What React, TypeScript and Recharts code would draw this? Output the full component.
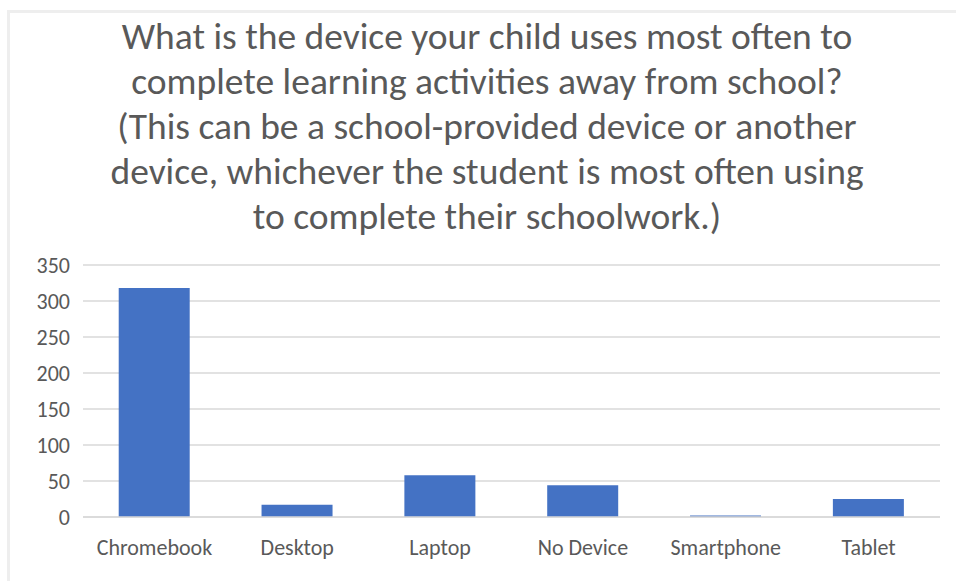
import { BarChart, Bar, XAxis, YAxis, CartesianGrid } from 'recharts';

const DEVICES = ['Chromebook', 'Desktop', 'Laptop', 'No Device', 'Smartphone', 'Tablet'];
const COUNTS = [318, 17, 58, 44, 2, 25];
const Y_TICKS = [0, 50, 100, 150, 200, 250, 300, 350];
const TITLE_LINES = [
  'What is the device your child uses most often to',
  'complete learning activities away from school?',
  '(This can be a school-provided device or another',
  'device, whichever the student is most often using',
  'to complete their schoolwork.)',
];

const FONT = "Calibri, Carlito, 'Liberation Sans Narrow', Lato, sans-serif";
const TEXT_COLOR = '#595959';

const data = DEVICES.map((name, i) => ({ name, value: COUNTS[i] }));

export default function App() {
  return (
    <div style={{ position: 'absolute', left: 0, top: 0, width: 956, height: 581, background: '#fff', overflow: 'hidden' }}>
      {/* light frame of the original chart object */}
      <div
        style={{
          position: 'absolute',
          left: 7,
          top: 10,
          width: 1000,
          height: 700,
          borderLeft: '3px solid #eeeeee',
          borderTop: '3px solid #eeeeee',
        }}
      />
      <div
        style={{
          position: 'absolute',
          left: 0,
          top: 14,
          width: 974,
          textAlign: 'center',
          fontFamily: FONT,
          fontSize: 37.5,
          lineHeight: '45px',
          color: TEXT_COLOR,
        }}
      >
        {TITLE_LINES.map((line) => (
          <div key={line}>{line}</div>
        ))}
      </div>
      <div style={{ position: 'absolute', left: 0, top: 0 }}>
        <BarChart
          width={956}
          height={581}
          data={data}
          margin={{ top: 265, right: 16, bottom: 0, left: 0 }}
          barCategoryGap="25%"
        >
          <CartesianGrid vertical={false} stroke="#d9d9d9" strokeWidth={1.5} />
          <XAxis
            dataKey="name"
            height={64}
            axisLine={{ stroke: '#d9d9d9', strokeWidth: 1.5 }}
            tickLine={false}
            tickSize={0}
            tickMargin={22}
            tick={{ fill: TEXT_COLOR, fontSize: 22, fontFamily: FONT }}
            interval={0}
          />
          <YAxis
            width={83}
            domain={[0, 350]}
            ticks={Y_TICKS}
            axisLine={false}
            tickLine={false}
            tickSize={0}
            tickMargin={13}
            tick={{ fill: TEXT_COLOR, fontSize: 22, fontFamily: FONT }}
          />
          <Bar dataKey="value" fill="#4472c4" isAnimationActive={false} />
        </BarChart>
      </div>
    </div>
  );
}
